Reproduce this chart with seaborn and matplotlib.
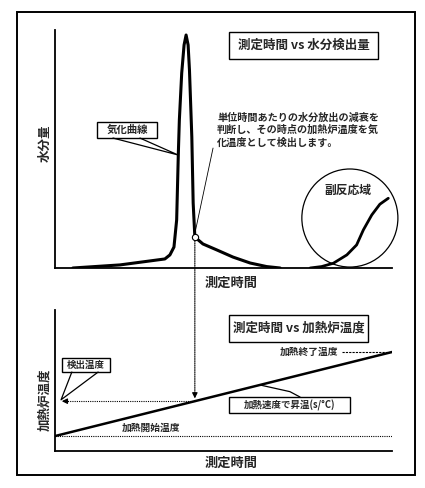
import matplotlib
matplotlib.use("Agg")
import matplotlib.pyplot as plt
from matplotlib.patches import Rectangle, Ellipse, ConnectionPatch
import seaborn as sns
import pandas as pd

# ---------------- data ----------------
moist_time = [5.3, 19.3, 32.6, 34.1, 35.3, 36.1, 36.6, 36.9, 37.6, 38.3, 38.9, 39.5,
              39.9, 40.6, 41.0, 41.5, 43.9, 48.0, 52.8, 57.9, 62.8, 66.8]
moist_val = [0, 1.3, 3.8, 5.5, 8.8, 20.2, 48.3, 62.2, 81.9, 93.7, 97.9, 93.7,
             83.2, 55.0, 27.3, 13.0, 10.1, 7.6, 4.6, 2.1, 0.6, 0]
side_time = [75.7, 79.1, 82.6, 86.6, 89.5, 91.5, 94.0, 96.4, 98.9]
side_val = [0, 0.6, 2.0, 5.5, 9.7, 16.0, 22.3, 26.8, 29.3]
detect_time = 41.5
detect_moist = 13.0
start_temp = 10.6
end_temp = 70.2
ramp_time = [0, 100]
ramp_temp = [start_temp, end_temp]
detect_temp = start_temp + (end_temp - start_temp) * detect_time / 100

title_top = "測定時間 vs 水分検出量"
title_bottom = "測定時間 vs 加熱炉温度"
xlabel = "測定時間"
ylabel_top = "水分量"
ylabel_bottom = "加熱炉温度"
label_curve = "気化曲線"
label_note = "単位時間あたりの水分放出の減衰を\n判断し、その時点の加熱炉温度を気\n化温度として検出します。"
label_side = "副反応域"
label_end = "加熱終了温度"
label_start = "加熱開始温度"
label_detect = "検出温度"
label_rate = "加熱速度で昇温(s/°C)"

# ---------------- style ----------------
sns.set_theme(style="white")
plt.rcParams['font.family'] = ['Noto Sans CJK JP', 'DejaVu Sans']
plt.rcParams['font.weight'] = 'bold'

W, H = 425, 488
fig = plt.figure(figsize=(W / 100, H / 100), dpi=100)

def frac(x0, y0, x1, y1):
    return [x0 / W, 1 - y1 / H, (x1 - x0) / W, (y1 - y0) / H]

ax1 = fig.add_axes(frac(55, 30, 392, 268))
ax2 = fig.add_axes(frac(55, 310, 392, 451))
for ax in (ax1, ax2):
    ax.set_xlim(0, 100)
    ax.set_ylim(0, 100)
    ax.set_xticks([])
    ax.set_yticks([])
    for s in ("top", "right"):
        ax.spines[s].set_visible(False)
    for s in ("left", "bottom"):
        ax.spines[s].set_color("black")
        ax.spines[s].set_linewidth(1.3)
    ax.patch.set_alpha(0)

# outer frame
fig.add_artist(Rectangle((17 / W, 1 - 475 / H), (415 - 17) / W, (475 - 12) / H,
                         transform=fig.transFigure, fill=False, lw=1.4, ec="black"))

# ---------------- top panel ----------------
df1 = pd.DataFrame({"t": moist_time, "m": moist_val})
sns.lineplot(data=df1, x="t", y="m", ax=ax1, color="black", lw=2.2,
             estimator=None, sort=False)
df2 = pd.DataFrame({"t": side_time, "m": side_val})
sns.lineplot(data=df2, x="t", y="m", ax=ax1, color="black", lw=2.0,
             estimator=None, sort=False)
ax1.set_xlabel("")
ax1.set_ylabel("")
ax1.add_patch(Ellipse((87.5, 21.0), 28.5, 41.2, fill=False, ec="black", lw=0.9,
                      clip_on=False))
ax1.plot([detect_time], [detect_moist], marker="o", ms=4.5, mfc="white",
         mec="black", mew=0.8, zorder=5)

# title box
ax1.add_patch(Rectangle((51.6, 87.8), 44.2, 11.4, fill=False, ec="black", lw=1.0))
ax1.text(73.9, 93.5, title_top, ha="center", va="center", fontsize=9, weight="bold")

# curve label box
ax1.add_patch(Rectangle((12.5, 54.6), 17.8, 6.7, fill=False, ec="black", lw=1.0))
ax1.text(21.4, 57.9, label_curve, ha="center", va="center", fontsize=7.5, weight="bold")
ax1.plot([17.2, 36.5, 25.2], [54.6, 47.5, 54.6], color="black", lw=0.9)

# note
ax1.text(48.1, 58.0, label_note, ha="left", va="center", fontsize=7.3,
         weight="bold", linespacing=1.25)
ax1.plot([46.9, detect_time], [50.4, detect_moist + 1.5], color="black", lw=0.6)

ax1.text(86.9, 32.8, label_side, ha="center", va="center", fontsize=8.5, weight="bold")

ax1.text(-0.03, 0.525, ylabel_top, transform=ax1.transAxes, rotation=90,
         ha="center", va="center", fontsize=9, weight="bold")
ax1.text(0.522, -0.063, xlabel, transform=ax1.transAxes, ha="center",
         va="center", fontsize=9.5, weight="bold")

# ---------------- bottom panel ----------------
df3 = pd.DataFrame({"t": ramp_time, "T": ramp_temp})
sns.lineplot(data=df3, x="t", y="T", ax=ax2, color="black", lw=1.8, estimator=None)
ax2.set_xlabel("")
ax2.set_ylabel("")
ax2.plot([0, 100], [start_temp, start_temp], color="black", lw=0.8, ls=(0, (1, 1)))
ax2.plot([85.2, 100], [end_temp, end_temp], color="black", lw=0.8, ls=(0, (2, 1)))
ax2.text(84.0, end_temp, label_end, ha="right", va="center", fontsize=7, weight="bold")
ax2.text(19.9, 16.3, label_start, ha="left", va="center", fontsize=7, weight="bold")

# title box
ax2.add_patch(Rectangle((51.6, 77.3), 41.3, 19.2, fill=False, ec="black", lw=1.0))
ax2.text(72.3, 87.0, title_bottom, ha="center", va="center", fontsize=9, weight="bold")

# detection temp box
ax2.add_patch(Rectangle((2.1, 56.0), 14.2, 10.0, fill=False, ec="black", lw=1.0))
ax2.text(9.2, 61.0, label_detect, ha="center", va="center", fontsize=6.8, weight="bold")
ax2.plot([5.0, 1.8, 12.8], [56.0, detect_temp + 1, 56.0], color="black", lw=0.9)

# rate box
ax2.add_patch(Rectangle((51.6, 27.0), 35.9, 11.3, fill=False, ec="black", lw=1.0))
ax2.text(69.6, 32.6, label_rate, ha="center", va="center", fontsize=6.8, weight="bold")
rate_t0 = 60.8
ax2.plot([rate_t0, 69.7, 72.7],
         [start_temp + (end_temp - start_temp) * rate_t0 / 100, 42.1, 38.3],
         color="black", lw=0.9)

# horizontal dotted arrow to y axis
ax2.plot([2.5, detect_time], [detect_temp, detect_temp], color="black", lw=0.8,
         ls=(0, (1, 1)))
ax2.annotate("", xy=(1.2, detect_temp), xytext=(4.0, detect_temp),
             arrowprops=dict(arrowstyle="-|>", color="black", lw=0.8,
                             mutation_scale=8))

# vertical dotted connector
con = ConnectionPatch(xyA=(detect_time, detect_moist - 1.5), coordsA=ax1.transData,
                      xyB=(detect_time, detect_temp + 4), coordsB=ax2.transData,
                      color="black", lw=0.8, ls=(0, (1, 1)))
fig.add_artist(con)
ax2.annotate("", xy=(detect_time, detect_temp), xytext=(detect_time, detect_temp + 6),
             arrowprops=dict(arrowstyle="-|>", color="black", lw=0.8,
                             mutation_scale=8))

ax2.text(-0.03, 0.36, ylabel_bottom, transform=ax2.transAxes, rotation=90,
         ha="center", va="center", fontsize=9, weight="bold")
ax2.text(0.522, -0.085, xlabel, transform=ax2.transAxes, ha="center",
         va="center", fontsize=9.5, weight="bold")

fig.savefig("out.png", dpi=100, facecolor="white")
